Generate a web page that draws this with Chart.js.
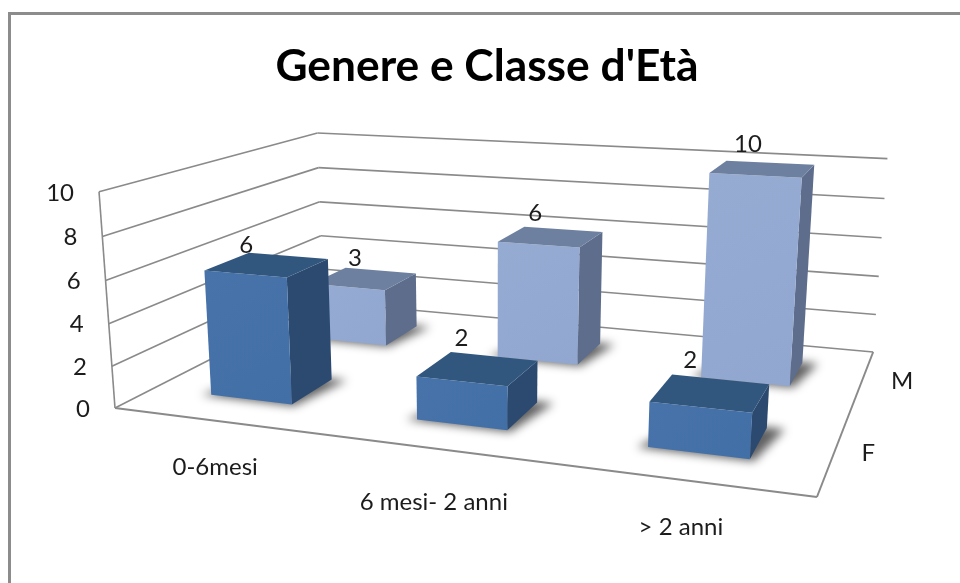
<!DOCTYPE html>
<html>
<head>
<meta charset="utf-8">
<style>
html,body{margin:0;padding:0;background:#fff;overflow:hidden}
#wrap{position:absolute;left:0;top:0;width:960px;height:583px}
canvas{display:block;filter:blur(0.5px)}
</style>
<script src="https://cdn.jsdelivr.net/npm/chart.js@4/dist/chart.umd.min.js"></script>
</head>
<body>
<div id="wrap"><canvas id="c" width="960" height="583"></canvas></div>
<script>
const titleText = "Genere e Classe d'Età";
const categories = ['0-6mesi', '6 mesi- 2 anni', '> 2 anni'];
const depthLabels = ['F', 'M'];
const valuesF = [6, 2, 2];
const valuesM = [3, 6, 10];
const axisMax = 10;
const axisStep = 2;

// Perspective of the 3D box: (s along categories, t along depth, h up the value axis), each 0..1
const PROJ = [
  [564.7, 302.6, -20.0, 115],
  [5.5, -17.5, -224.0, 408],
  [-0.168, 0.293, -0.0406, 1]
];
function project(s, t, h) {
  const w = PROJ[2][0]*s + PROJ[2][1]*t + PROJ[2][2]*h + PROJ[2][3];
  return [
    (PROJ[0][0]*s + PROJ[0][1]*t + PROJ[0][2]*h + PROJ[0][3]) / w,
    (PROJ[1][0]*s + PROJ[1][1]*t + PROJ[1][2]*h + PROJ[1][3]) / w
  ];
}
const FONT = 'Lato, Carlito, sans-serif';
const LABEL_SIZE = 24;
const TEXT = '#1c1c1c';
const GRID = '#8a8a8a';
const DEPTH_FILL = 0.39;
const styles = [
  {front0:'#4773aa', front1:'#426fa6', top:'#32577f', side:'#2c4a70'},
  {front0:'#95abd2', front1:'#91a7d0', top:'#6e80a0', side:'#5d6d8b'}
];
const labelNudge = [
  [[1,-29],[0,-43],[-10,-47]],
  [[7,-29],[-3,-31],[-7,-31]]
];
const catNudge = [47, 54, 48];

function poly(ctx, pts) {
  ctx.beginPath();
  pts.forEach((p,i)=> i ? ctx.lineTo(p[0],p[1]) : ctx.moveTo(p[0],p[1]));
  ctx.closePath();
}
function seg(ctx, a, b) {
  ctx.beginPath(); ctx.moveTo(a[0],a[1]); ctx.lineTo(b[0],b[1]); ctx.stroke();
}
function text(ctx, str, x, y, size, align) {
  ctx.font = size + 'px ' + FONT;
  ctx.fillStyle = TEXT;
  ctx.textAlign = align || 'center';
  ctx.textBaseline = 'middle';
  ctx.fillText(str, x, y);
}

const box3d = {
  id: 'box3d',
  beforeDatasetsDraw(chart) {
    const ctx = chart.ctx, yS = chart.scales.y, xS = chart.scales.x;
    ctx.save();
    // outer frame
    ctx.strokeStyle = '#8c8c8c'; ctx.lineWidth = 3;
    ctx.beginPath(); ctx.moveTo(9.5,583); ctx.lineTo(9.5,13.5); ctx.lineTo(960,13.5); ctx.stroke();
    // walls and floor
    ctx.strokeStyle = GRID; ctx.lineWidth = 1.6;
    yS.ticks.forEach(tk => {
      const h = yS.getDecimalForPixel(yS.getPixelForValue(tk.value));
      seg(ctx, project(0,0,h), project(0,1,h));
      seg(ctx, project(0,1,h), project(1,1,h));
      const a = project(0,0,h);
      text(ctx, String(tk.value), a[0]-25, a[1]+1, LABEL_SIZE, 'right');
    });
    seg(ctx, project(0,0,0), project(0,0,1));
    ctx.lineWidth = 2;
    seg(ctx, project(0,0,0), project(1,0,0));
    seg(ctx, project(1,0,0), project(1,1,0));
    // category labels along the front edge
    xS.getLabels().forEach((lab,i) => {
      const p = project(xS.getDecimalForPixel(xS.getPixelForValue(i)), 0, 0);
      text(ctx, lab, p[0], p[1]+catNudge[i], LABEL_SIZE);
    });
    // depth labels along the right edge
    depthLabels.forEach((lab,i) => {
      const p = project(1, (i+0.5)/depthLabels.length, 0);
      text(ctx, lab, p[0]+[34,40][i], p[1]+1, LABEL_SIZE);
    });
    // bars, back row first
    for (let d = chart.data.datasets.length-1; d >= 0; d--) {
      const meta = chart.getDatasetMeta(d), st = styles[d];
      const tc = (d+0.5)/depthLabels.length, dt = DEPTH_FILL/depthLabels.length/2;
      const t0 = tc-dt, t1 = tc+dt;
      meta.data.forEach((el,i) => {
        const s0 = xS.getDecimalForPixel(el.x-el.width/2);
        const s1 = xS.getDecimalForPixel(el.x+el.width/2);
        const h = yS.getDecimalForPixel(el.y);
        // soft floor shadow
        ctx.save();
        ctx.filter = 'blur(5px)';
        ctx.fillStyle = 'rgba(0,0,0,0.62)';
        poly(ctx,[project(s0-0.014,t0-0.008,0),project(s1+0.006,t0-0.008,0),project(s1+0.024,t1+0.006,0),project(s0+0.03,t1+0.006,0)]);
        ctx.fill();
        ctx.restore();
        // right side
        ctx.fillStyle = st.side;
        poly(ctx,[project(s1,t0,0),project(s1,t1,0),project(s1,t1,h),project(s1,t0,h)]);
        ctx.fill();
        // front
        const a = project(s0,t0,h), b = project(s1,t0,0);
        const g = ctx.createLinearGradient(a[0],a[1],b[0],b[1]);
        g.addColorStop(0,st.front0); g.addColorStop(1,st.front1);
        ctx.fillStyle = g;
        poly(ctx,[project(s0,t0,0),project(s1,t0,0),project(s1,t0,h),project(s0,t0,h)]);
        ctx.fill();
        // top
        ctx.fillStyle = st.top;
        poly(ctx,[project(s0,t0,h),project(s1,t0,h),project(s1,t1,h),project(s0,t1,h)]);
        ctx.fill();
      });
    }
    // value labels
    chart.data.datasets.forEach((ds,d) => {
      const meta = chart.getDatasetMeta(d);
      const tc = (d+0.5)/depthLabels.length, dt = DEPTH_FILL/depthLabels.length/2;
      meta.data.forEach((el,i) => {
        const sc = xS.getDecimalForPixel(el.x), h = yS.getDecimalForPixel(el.y);
        const p = project(sc, tc-dt, h), n = labelNudge[d][i];
        text(ctx, String(ds.data[i]), p[0]+n[0], p[1]+n[1], LABEL_SIZE);
      });
    });
    ctx.restore();
    return false;
  }
};

new Chart(document.getElementById('c'), {
  type: 'bar',
  data: {
    labels: categories,
    datasets: [
      {label: depthLabels[0], data: valuesF, backgroundColor: styles[0].front0},
      {label: depthLabels[1], data: valuesM, backgroundColor: styles[1].front0}
    ]
  },
  plugins: [box3d],
  options: {
    responsive: false,
    animation: false,
    events: [],
    layout: {padding: {left: 14, right: 0, top: 0, bottom: 40}},
    datasets: {bar: {grouped: false, categoryPercentage: 1, barPercentage: 0.405}},
    scales: {
      x: {display: false, offset: true},
      y: {display: false, min: 0, max: axisMax, ticks: {stepSize: axisStep}}
    },
    plugins: {
      legend: {display: false},
      tooltip: {enabled: false},
      title: {
        display: true,
        text: titleText,
        color: '#000',
        font: {family: FONT, size: 44.3, weight: 'bold'},
        padding: {top: 40, bottom: 20}
      }
    }
  }
});
</script>
</body>
</html>
